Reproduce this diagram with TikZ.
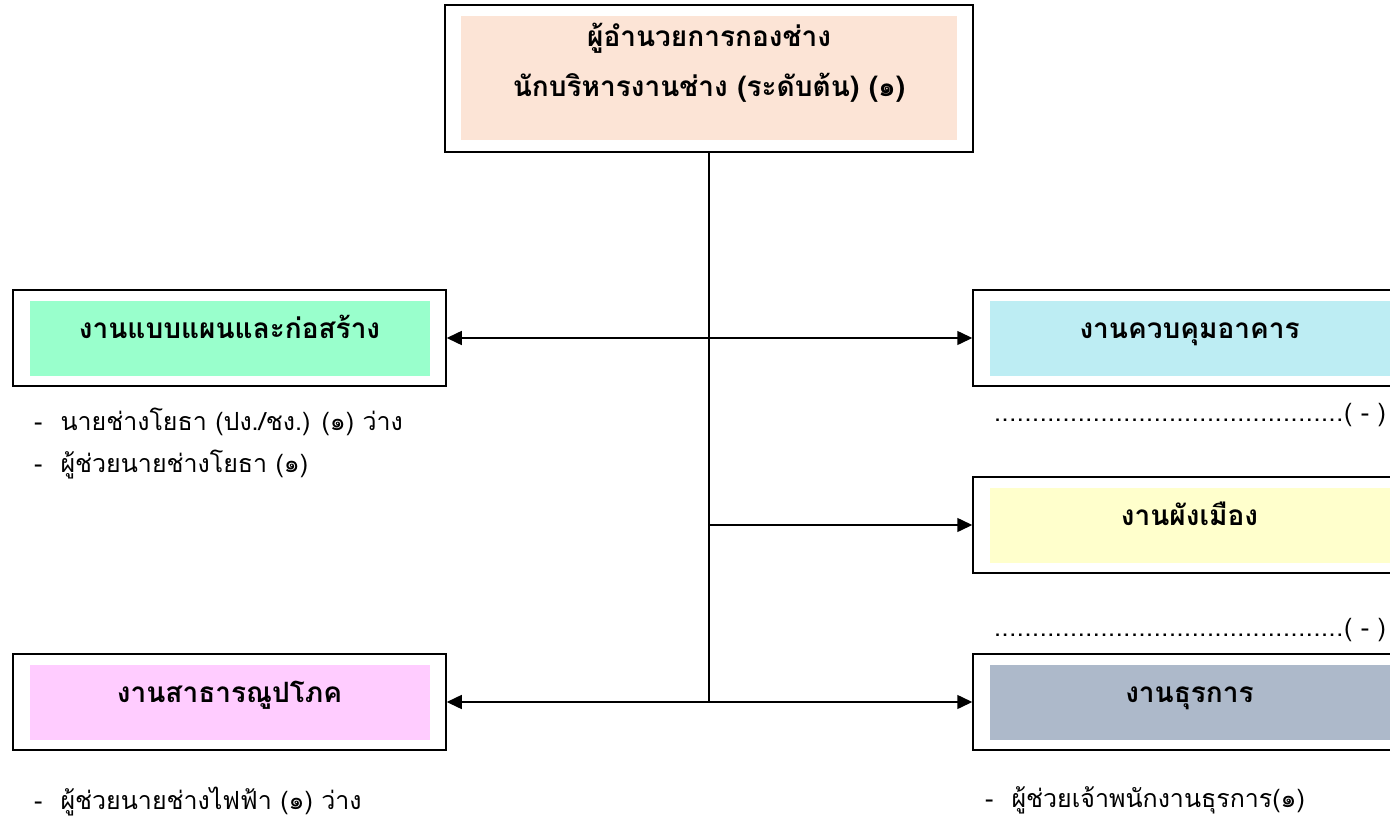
\documentclass[tikz,border=0pt]{standalone}
\usepackage{fontspec}
\newfontfamily\thai[Script=Thai]{Loma}
\usetikzlibrary{arrows.meta, positioning}
\definecolor{peach}{HTML}{FCE4D6}
\definecolor{mint}{HTML}{99FFCC}
\definecolor{sky}{HTML}{BDEDF3}
\definecolor{lemon}{HTML}{FFFFCC}
\definecolor{rose}{HTML}{FFCCFF}
\definecolor{slate}{HTML}{ADB9CA}
\newcommand{\dotrow}{\hbox to 392pt{\leaders\hbox to 7.6pt{\hss.\hss}\hfill( - )}}
\tikzset{x = 1pt, y = -1pt,
         >= {Triangle[length = 15pt, width = 14pt]},
         every node/.style = {font = \thai},
         frame/.style = {draw, line width = 1.5pt, inner sep = 0pt,
                         minimum width = 433pt, minimum height = 96pt},
         panel/.style = {inner sep = 0pt, minimum width = 400pt,
                         minimum height = 75pt},
         title/.style = {inner sep = 0pt, anchor = base,
                         font = \thai\bfseries\fontsize{28}{34}\selectfont},
         item/.style = {anchor = west, inner sep = 0pt,
                        font = \thai\fontsize{25}{30}\selectfont},
         link/.style = {line width = 1.5pt}}

\begin{document}
\begin{tikzpicture}
        \useasboundingbox (0,0) rectangle (1390,824);
        \clip (0,0) rectangle (1390,824);

        \node[frame, minimum width = 528pt, minimum height = 147pt]
                                   (head)  at (709,78.5)  {};
        \node[frame]               (build) at (229.5,338) {};
        \node[frame]               (util)  at (229.5,702) {};
        \node[frame]               (ctrl)  at (1189.5,338) {};
        \node[frame]               (city)  at (1189.5,525) {};
        \node[frame]               (admin) at (1189.5,702) {};

        \node[panel, fill = peach, minimum width = 496pt,
              minimum height = 124pt]   at (head)  {};
        \node[panel, fill = mint]  at (build) {};
        \node[panel, fill = rose]  at (util)  {};
        \node[panel, fill = sky]   at (ctrl)  {};
        \node[panel, fill = lemon] at (city)  {};
        \node[panel, fill = slate] at (admin) {};

        \node[title, yshift = 31.5pt]  at (head)  {ผู้อำนวยการกองช่าง};
        \node[title, yshift = -18.5pt] at (head)  {นักบริหารงานช่าง (ระดับต้น) (๑)};
        \node[title]               at (build) {งานแบบแผนและก่อสร้าง};
        \node[title]               at (util)  {งานสาธารณูปโภค};
        \node[title]               at (ctrl)  {งานควบคุมอาคาร};
        \node[title]               at (city)  {งานผังเมือง};
        \node[title]               at (admin) {งานธุรการ};

        \node[item] (b1) at (34,422) {-\hspace{18pt}นายช่างโยธา (ปง./ชง.) (๑) ว่าง};
        \node[item] (b2) at (34,465) {-\hspace{18pt}ผู้ช่วยนายช่างโยธา (๑)};
        \node[item] (u1) at (34,802) {-\hspace{18pt}ผู้ช่วยนายช่างไฟฟ้า (๑) ว่าง};
        \node[item] (a1) at (985,800) {-\hspace{18pt}ผู้ช่วยเจ้าพนักงานธุรการ(๑)};
        \node[item, anchor = east] (c1) at (1386,415) {\dotrow};
        \node[item, anchor = east] (p1) at (1386,630) {\dotrow};

        \coordinate (hub) at (head.south |- city);
        \draw[link] (head) -- (head.south |- util);
        \draw[link, <->] (build) -- (ctrl);
        \draw[link, <->] (util) -- (admin);
        \draw[link, ->] (hub) -- (city);
      \end{tikzpicture}
\end{document}
